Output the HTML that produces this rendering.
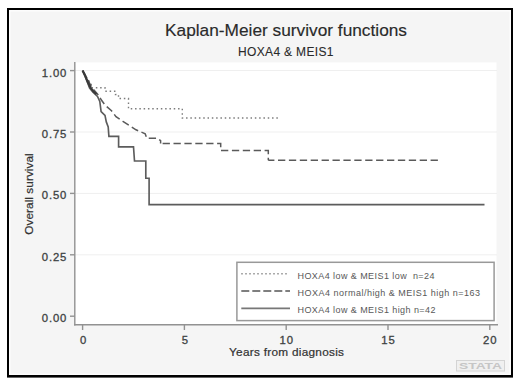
<!DOCTYPE html>
<html><head><meta charset="utf-8">
<style>
html,body{margin:0;padding:0;background:#fff;width:520px;height:385px;overflow:hidden}
svg{display:block}
text{font-family:"Liberation Sans",sans-serif}
</style></head>
<body>
<svg width="520" height="385" viewBox="0 0 520 385">
<!-- outer frame -->
<rect x="8" y="9" width="504" height="367.2" fill="#f5f5f5" stroke="#000" stroke-width="2"/>
<rect x="9.8" y="10.8" width="500.4" height="363.6" fill="none" stroke="#fcfcfc" stroke-width="1.6"/>
<line x1="7" y1="376.3" x2="513" y2="376.3" stroke="#000" stroke-width="2.5"/>
<!-- plot region -->
<rect x="75" y="62.4" width="421.5" height="262" fill="#fff"/>
<!-- gridlines -->
<g stroke="#efefef" stroke-width="1">
<line x1="75" y1="70.5" x2="497" y2="70.5"/>
<line x1="75" y1="132" x2="497" y2="132"/>
<line x1="75" y1="193.4" x2="497" y2="193.4"/>
<line x1="75" y1="254.8" x2="497" y2="254.8"/>
</g>
<!-- axes -->
<g stroke="#929292" stroke-width="1.4" fill="none">
<line x1="74.8" y1="62" x2="74.8" y2="325.5"/>
<line x1="74" y1="324.7" x2="498" y2="324.7"/>
<!-- y ticks -->
<line x1="70" y1="70.6" x2="74.8" y2="70.6"/>
<line x1="70" y1="132" x2="74.8" y2="132"/>
<line x1="70" y1="193.4" x2="74.8" y2="193.4"/>
<line x1="70" y1="254.8" x2="74.8" y2="254.8"/>
<line x1="70" y1="316.2" x2="74.8" y2="316.2"/>
<!-- x ticks -->
<line x1="82.6" y1="324.7" x2="82.6" y2="330"/>
<line x1="184.4" y1="324.7" x2="184.4" y2="330"/>
<line x1="286.2" y1="324.7" x2="286.2" y2="330"/>
<line x1="388" y1="324.7" x2="388" y2="330"/>
<line x1="489.8" y1="324.7" x2="489.8" y2="330"/>
</g>
<!-- y labels -->
<g font-size="11.3" fill="#3d4242" stroke="#3d4242" stroke-width="0.3" text-anchor="end">
<text x="66.3" y="76.6" textLength="24.5" lengthAdjust="spacing">1.00</text>
<text x="66.3" y="138" textLength="24.5" lengthAdjust="spacing">0.75</text>
<text x="66.3" y="199.4" textLength="24.5" lengthAdjust="spacing">0.50</text>
<text x="66.3" y="260.8" textLength="24.5" lengthAdjust="spacing">0.25</text>
<text x="66.3" y="322.2" textLength="24.5" lengthAdjust="spacing">0.00</text>
</g>
<!-- x labels -->
<g font-size="11.3" fill="#3d4242" stroke="#3d4242" stroke-width="0.3" text-anchor="middle">
<text x="83.1" y="343.8">0</text>
<text x="184.9" y="343.8">5</text>
<text x="286.2" y="343.8" textLength="13.6" lengthAdjust="spacing">10</text>
<text x="388" y="343.8" textLength="13.6" lengthAdjust="spacing">15</text>
<text x="489.8" y="343.8" textLength="13.6" lengthAdjust="spacing">20</text>
</g>
<!-- axis titles -->
<text x="229" y="355.8" font-size="11.8" fill="#333" stroke="#333" stroke-width="0.22" textLength="115" lengthAdjust="spacing">Years from diagnosis</text>
<text transform="translate(32.6,194) rotate(-90)" x="0" y="0" font-size="11.8" fill="#333" stroke="#333" stroke-width="0.22" text-anchor="middle" textLength="81.5" lengthAdjust="spacing">Overall survival</text>
<!-- titles -->
<text x="165" y="36.3" font-size="17" fill="#2a2a2a" stroke="#2a2a2a" stroke-width="0.15" textLength="242" lengthAdjust="spacingAndGlyphs">Kaplan-Meier survivor functions</text>
<text x="238" y="56" font-size="12" fill="#2a2a2a" stroke="#2a2a2a" stroke-width="0.1" textLength="95.5" lengthAdjust="spacing">HOXA4 &amp; MEIS1</text>

<!-- curves -->
<g fill="none" stroke-linejoin="miter">
<!-- dotted: low/low -->
<path d="M82.6 70.6 L85.5 75.5 L88.5 80.5 L91.2 83.5 V87.8 H105 V91.2 H115.5 V94.5 H118.5 V98.5 H128.5 V108.8 H182.3 V118 H279" stroke="#7c7c7c" stroke-width="1.4" stroke-dasharray="1.5 2.8" stroke-dashoffset="1.3"/>
<!-- dashed: normal/high -->
<path d="M82.6 70.6 L86 76.5 L89 82 L91.8 87.5 L95.3 91.5 L98.8 95.5 L101.2 99.8 L105 105 L111.5 110.8 L116 116.7 L122.9 121.4 L136 129.8 L145.2 133.7 L146.8 138.3 H157.5 L160.6 140.6 V143.6" stroke="#5a5a5a" stroke-width="1.5" stroke-dasharray="7.3 3.6"/>
<path d="M160.6 143.6 H220.7 V150.6 H268.3 V160.2" stroke="#5a5a5a" stroke-width="1.5" stroke-dasharray="7.3 3.6" stroke-dashoffset="8.9"/>
<path d="M268.3 160.2 H439" stroke="#5a5a5a" stroke-width="1.5" stroke-dasharray="7.3 3.6" stroke-dashoffset="1.2"/>
<!-- solid: low/high -->
<path d="M82.6 70.6 L85 76 L87.5 82.5 L89.6 88 L93 92.3 L97.5 96.5 L99.8 101.5 L101.1 111.5 L105 115.4 L106.3 121.9 L108.2 127 L108.9 136.4 H118.6 V146.8 H133.5 L134.5 161 H145.8 V178.2 H149.1 V204.6 H484.5" stroke="#5c5c5c" stroke-width="1.65"/>
<path d="M82.6 70.6 L85.3 76 L87.8 82 L90.3 87.3 L93.3 91.3 L96.5 94.3" stroke="#3a3a3a" stroke-width="2.2"/>
</g>

<!-- legend -->
<rect x="236.9" y="262.3" width="257.2" height="58.3" fill="#fff" stroke="#999" stroke-width="1.5"/>
<line x1="241.3" y1="273.8" x2="289" y2="273.8" stroke="#888" stroke-width="1.4" stroke-dasharray="1.4 2.6"/>
<line x1="241.3" y1="291" x2="290" y2="291" stroke="#555" stroke-width="1.6" stroke-dasharray="8 3"/>
<line x1="241.3" y1="308.3" x2="290" y2="308.3" stroke="#777" stroke-width="1.8"/>
<g font-size="9" fill="#585858">
<text x="297.5" y="279" style="white-space:pre" textLength="137" lengthAdjust="spacing">HOXA4 low &amp; MEIS1 low  n=24</text>
<text x="297.5" y="296.1" textLength="182.5" lengthAdjust="spacing">HOXA4 normal/high &amp; MEIS1 high n=163</text>
<text x="297.5" y="313.3" textLength="138" lengthAdjust="spacing">HOXA4 low &amp; MEIS1 high n=42</text>
</g>

<!-- stata watermark -->
<rect x="456.5" y="360.5" width="48" height="10.5" fill="#f0f0f0" stroke="#d4d4d4" stroke-width="1"/>
<text x="459" y="369.2" font-size="8.5" fill="#c6c6c6" textLength="43" lengthAdjust="spacingAndGlyphs" font-weight="bold">STATA</text>
</svg>
</body></html>
